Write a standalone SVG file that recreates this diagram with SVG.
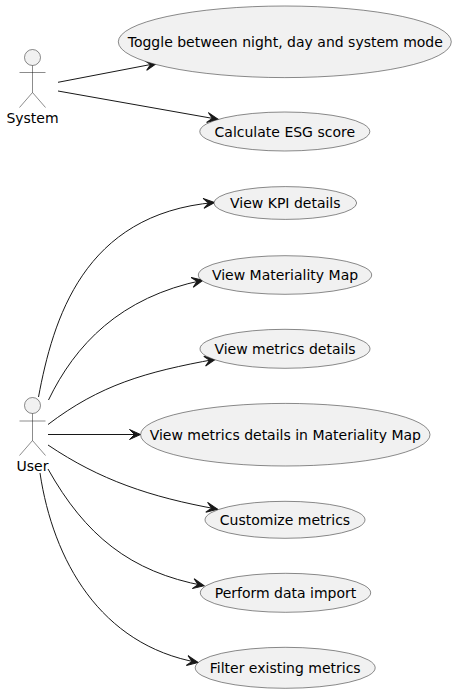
<svg xmlns="http://www.w3.org/2000/svg" width="456" height="693" viewBox="0 0 456 693">
<style>
text{font-family:"DejaVu Sans",sans-serif;font-size:14px;fill:#000;text-anchor:middle}
.u{fill:#F1F1F1;stroke:#181818;stroke-width:.5}
.a{fill:#F1F1F1;stroke:#181818;stroke-width:.5}
.b{fill:none;stroke:#181818;stroke-width:.5}
.c{fill:none;stroke:#181818;stroke-width:1;marker-end:url(#arr)}
</style>
<defs>
<marker id="arr" markerUnits="userSpaceOnUse" markerWidth="14" markerHeight="12" refX="11" refY="5" orient="auto" overflow="visible">
<path d="M11,5 L0,0 L5,5 L0,10 Z" fill="#181818" stroke="#181818" stroke-width="1"/>
</marker>
</defs>
<rect width="456" height="693" fill="#fff"/>
<g id="connectors">
<path class="c" d="M58,82.3 L156.5,63.4"/>
<path class="c" d="M58,91 L218.3,119.4"/>
<path class="c" d="M38.5,397 C53,320 83,214 214.5,202.5"/>
<path class="c" d="M48.5,400 C75,345 120,297 203,280.2"/>
<path class="c" d="M48,424.5 C100,385 145,372 215.5,359.2"/>
<path class="c" d="M48,434.5 L140.5,434.5"/>
<path class="c" d="M48,445 C100,480 150,497 217.5,509.2"/>
<path class="c" d="M48,469 C85,535 130,572 204,585.7"/>
<path class="c" d="M40,473 C53,560 100,645 198,662.5"/>
</g>
<g id="actor-system">
<circle class="a" cx="32.5" cy="57.5" r="8"/>
<path class="b" d="M32.5,65.5V92.5M19.5,72.5H45.5M32.5,92.5L19.5,107.5M32.5,92.5L45.5,107.5"/>
<text x="32.5" y="123">System</text>
</g>
<g id="actor-user">
<circle class="a" cx="32.5" cy="405.5" r="8"/>
<path class="b" d="M32.5,413.5V440.5M19.5,421H45.5M32.5,440.5L19.5,455.5M32.5,440.5L45.5,455.5"/>
<text x="32.5" y="471">User</text>
</g>
<g id="uc-toggle"><ellipse class="u" cx="284.8" cy="41.8" rx="166.5" ry="35.8"/><text x="285.3" y="46.5">Toggle between night, day and system mode</text></g>
<g id="uc-esg"><ellipse class="u" cx="284.8" cy="131.5" rx="85" ry="19.5"/><text x="284.8" y="136.5">Calculate ESG score</text></g>
<g id="uc-kpi"><ellipse class="u" cx="285.3" cy="203" rx="71.4" ry="16.4"/><text x="285.3" y="207.5">View KPI details</text></g>
<g id="uc-map"><ellipse class="u" cx="285" cy="275" rx="86.7" ry="19.3"/><text x="285" y="279.5">View Materiality Map</text></g>
<g id="uc-metrics"><ellipse class="u" cx="285" cy="348.8" rx="85" ry="19.5"/><text x="285" y="353.5">View metrics details</text></g>
<g id="uc-metrics-map"><ellipse class="u" cx="285.3" cy="434.7" rx="144.7" ry="31.3"/><text x="285.3" y="439.5">View metrics details in Materiality Map</text></g>
<g id="uc-customize"><ellipse class="u" cx="285" cy="519.8" rx="80" ry="18.5"/><text x="285" y="524.5">Customize metrics</text></g>
<g id="uc-import"><ellipse class="u" cx="285.5" cy="592.8" rx="85.2" ry="19.5"/><text x="285.5" y="597.5">Perform data import</text></g>
<g id="uc-filter"><ellipse class="u" cx="285.2" cy="667.8" rx="90" ry="20.5"/><text x="285.2" y="672.5">Filter existing metrics</text></g>
</svg>
